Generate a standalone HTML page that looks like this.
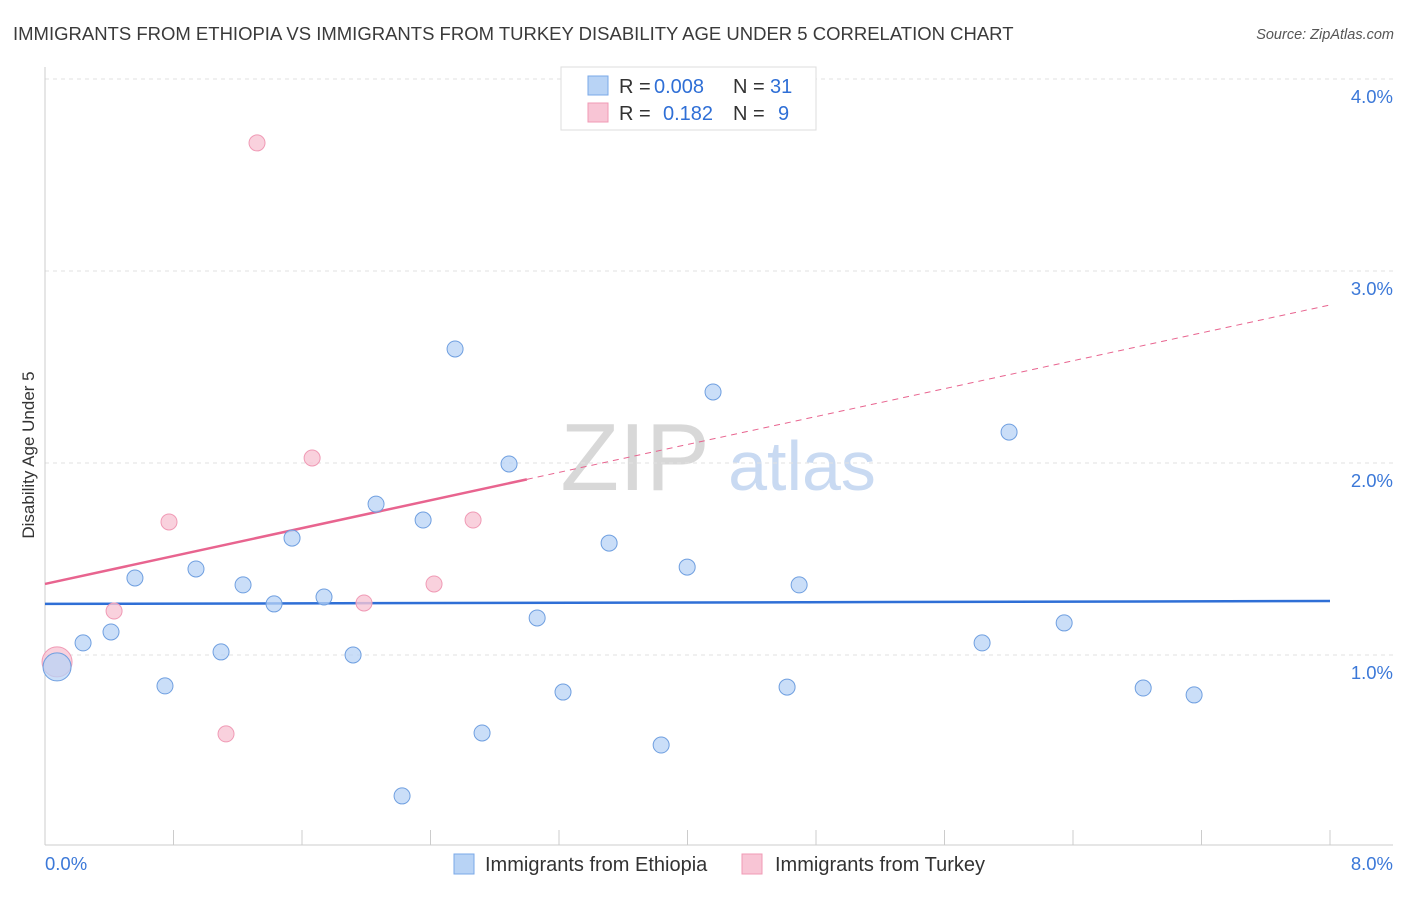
<!DOCTYPE html>
<html><head><meta charset="utf-8"><style>
body{margin:0;background:#fff;font-family:"Liberation Sans",sans-serif;}
svg text{font-family:"Liberation Sans",sans-serif;}
</style></head><body>
<svg id="chart" width="1406" height="892" viewBox="0 0 1406 892" xmlns="http://www.w3.org/2000/svg">
<text x="13" y="40" font-size="18.5" fill="#3a3a3a">IMMIGRANTS FROM ETHIOPIA VS IMMIGRANTS FROM TURKEY DISABILITY AGE UNDER 5 CORRELATION CHART</text>
<text x="1394" y="39" font-size="14.5" fill="#555" text-anchor="end" font-style="italic">Source: ZipAtlas.com</text>
<g>
<text x="635" y="490" font-size="96" fill="#d8d8d8" text-anchor="middle" font-family="Liberation Serif,serif">ZIP</text>
<text x="802" y="490" font-size="70" fill="#c9daf2" text-anchor="middle">atlas</text>
</g>
<g id="grid"></g>
<line x1="45" y1="67" x2="45" y2="845" stroke="#ccc"/>
<line x1="45" y1="845" x2="1393" y2="845" stroke="#ccc"/>
<g id="ticks"></g>
<text transform="translate(34,455) rotate(-90)" font-size="17" fill="#333" text-anchor="middle">Disability Age Under 5</text>
<text x="45" y="870" font-size="18.5" fill="#3b78d8">0.0%</text>
<text x="1393" y="870" font-size="18.5" fill="#3b78d8" text-anchor="end">8.0%</text>
<g id="lines"></g>
<g id="points"></g>
<g>
<rect x="561" y="67" width="255" height="63" fill="#fff" stroke="#ddd"/>
<rect x="588" y="76" width="20" height="19" fill="#b8d3f5" stroke="#7aa8e8"/>
<rect x="588" y="103" width="20" height="19" fill="#f8c5d5" stroke="#f09ab5"/>
<text font-size="20" fill="#333"><tspan x="619" y="93">R =</tspan><tspan x="654" y="93" fill="#2f6fd6">0.008</tspan><tspan x="733" y="93">N =</tspan><tspan x="770" y="93" fill="#2f6fd6">31</tspan></text>
<text font-size="20" fill="#333"><tspan x="619" y="120">R =</tspan><tspan x="663" y="120" fill="#2f6fd6">0.182</tspan><tspan x="733" y="120">N =</tspan><tspan x="778" y="120" fill="#2f6fd6">9</tspan></text>
</g>
<g>
<rect x="454" y="854" width="20" height="20" fill="#b8d3f5" stroke="#7aa8e8"/>
<text x="485" y="871" font-size="20" fill="#333">Immigrants from Ethiopia</text>
<rect x="742" y="854" width="20" height="20" fill="#f8c5d5" stroke="#f09ab5"/>
<text x="775" y="871" font-size="20" fill="#333">Immigrants from Turkey</text>
</g>
</svg>
<script>
const yTicks=[1,2,3,4];
const yTickLabels=["1.0%","2.0%","3.0%","4.0%"];
const ethX=[0.075,0.237,0.411,0.560,0.747,0.940,1.096,1.233,1.426,1.538,1.737,1.918,2.061,2.223,2.354,2.553,2.721,2.889,3.064,3.225,3.512,3.836,3.998,4.159,4.620,4.695,5.834,6.002,6.345,6.837,7.154];
const ethY=[0.938,1.063,1.120,1.401,0.839,1.448,1.016,1.365,1.266,1.609,1.302,1.000,1.786,0.266,1.703,2.594,0.594,1.995,1.193,0.807,1.583,0.531,1.458,2.370,0.833,1.365,1.063,2.161,1.167,0.828,0.792];
const turX=[0.075,0.430,0.772,1.127,1.320,1.663,1.986,2.422,2.665];
const turY=[0.964,1.229,1.693,0.589,3.667,2.026,1.271,1.370,1.703];
const ethTrend=[1.266,1.281];
const turTrend=[1.370,2.823];
const turSolidEnd=3.0;
const NS="http://www.w3.org/2000/svg";
const sx=v=>45+v*1285/8, sy=v=>847-v*192;
function mk(tag,attrs,parent){const e=document.createElementNS(NS,tag);for(const k in attrs)e.setAttribute(k,attrs[k]);document.getElementById(parent).appendChild(e);return e;}
yTicks.forEach((t,i)=>{
 const l=mk('line',{x1:45,x2:1393,y1:sy(t),y2:sy(t),stroke:'#e2e2e2','stroke-dasharray':'4,4'},'grid');
 
 
 const tx=mk('text',{x:1393,y:sy(t)+24,'font-size':18.5,fill:'#3b78d8','text-anchor':'end'},'grid');
 tx.textContent=yTickLabels[i];
 
 
});
for(let i=1;i<=10;i++){
 const x=sx(i*0.8);
 const l=mk('line',{x1:x,x2:x,y1:830,y2:845,stroke:'#ccc'},'ticks');
 
 
}
const ty=x=>turTrend[0]+(turTrend[1]-turTrend[0])*x/8;
let l=mk('line',{x1:sx(0),y1:sy(ethTrend[0]),x2:sx(8),y2:sy(ethTrend[1]),stroke:'#2f6fd6','stroke-width':2.5},'lines');


l=mk('line',{x1:sx(0),y1:sy(ty(0)),x2:sx(turSolidEnd),y2:sy(ty(turSolidEnd)),stroke:'#e8648f','stroke-width':2.5},'lines');


l=mk('line',{x1:sx(turSolidEnd),y1:sy(ty(turSolidEnd)),x2:sx(8),y2:sy(ty(8)),stroke:'#e8648f','stroke-width':1,'stroke-dasharray':'6,5'},'lines');


turX.forEach((x,i)=>{
 const c=mk('circle',{cx:sx(x),cy:sy(turY[i]),r:i==0?15:8,fill:'#f8c5d5','fill-opacity':0.8,stroke:'#f09ab5','stroke-width':1},'points');
 
 
});
ethX.forEach((x,i)=>{
 const c=mk('circle',{cx:sx(x),cy:sy(ethY[i]),r:i==0?14:8,fill:'#b8d3f5','fill-opacity':0.75,stroke:'#6f9fe0','stroke-width':1},'points');
 
 
});
</script>
</body></html>
